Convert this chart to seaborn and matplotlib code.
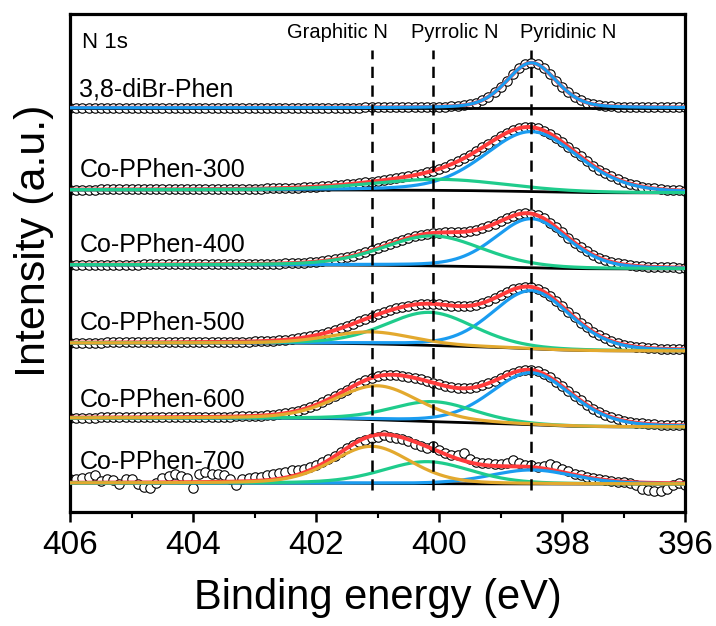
import numpy as np
import pandas as pd
import matplotlib
matplotlib.use('Agg')
import matplotlib.pyplot as plt
import seaborn as sns

# N 1s spectra, stacked; intensities in arbitrary (offset) units
samples = ['3,8-diBr-Phen', 'Co-PPhen-300', 'Co-PPhen-400',
           'Co-PPhen-500', 'Co-PPhen-600', 'Co-PPhen-700']
label_y = [422, 342, 267, 189, 112, 50]

# background level at the high-BE end (406 eV) and low-BE end (396 eV)
bg_high = [404, 322, 247, 169, 94, 29]
bg_low = [404, 319, 243, 161, 85, 28]

# fitted components: position (eV), height, FWHM (eV)
pyridinic_pos = [398.5, 398.5, 398.5, 398.5, 398.5, 398.5]
pyridinic_amp = [45, 60, 49, 58, 52, 14]
pyridinic_fwhm = [0.95, 1.8, 1.4, 1.5, 1.55, 1.6]

pyrrolic_pos = [400.1, 400.0, 400.1, 400.15, 400.1, 400.2]
pyrrolic_amp = [0, 11, 30, 33, 20, 22]
pyrrolic_fwhm = [1.0, 2.6, 1.9, 1.7, 1.6, 1.7]

graphitic_pos = [401.1, 401.1, 401.1, 401.1, 401.0, 401.1]
graphitic_amp = [0, 0, 0, 12, 34, 37]
graphitic_fwhm = [1.0, 1.0, 1.0, 1.6, 1.6, 1.5]

# measured points of Co-PPhen-700 relative to the fit envelope (406 -> 396 eV, 0.1 eV step)
resid_700 = [4, 4, 5, 6, 8, 2, 4, 3, -1, 4, 4, -2, -5, -6, -1, 4, 6, 8, 6, 4,
             -6, 8, 10, 8, 8, 7,
             3, -3, 2, 3, 4, 4, 5, 5, 6, 6, 6, 5, 4, 3, 2, 2, 1, 0, 0, 0,
             -1, -1, -2, -2, -2, -1,
             -2, -2, -1, -2, -2, -2, -1, 3, 2, 1, 2, 4, 8, 3, 2, 2, 2, 2, 2,
             3, 6, 3, 2, 2, 1,
             3, 6, 5, 3, 2, 1, 1, 0, 0, 0, 0, 0, -1, 0, -1, -3, -6, -7, -8,
             -8, -6, -2, 0, -2]

ref_lines = [401.1, 400.1, 398.5]
ref_names = ['Graphitic N', 'Pyrrolic N', 'Pyridinic N']
ref_name_x = [401.65, 399.75, 397.9]

colors = {'pyridinic': '#1a9cf0', 'pyrrolic': '#1fcc8c',
          'graphitic': '#e3a92e', 'envelope': '#ff3b3b'}


def peak(e, c, a, w, eta=0.25):
    d = (e - c) / w
    return a * ((1 - eta) * np.exp(-4 * np.log(2) * d ** 2) + eta / (1 + 4 * d ** 2))


def shirley(total, high, low):
    # grid runs 406 -> 396, so accumulate area from the low-BE end
    rev = total[::-1]
    area = np.concatenate([[0], np.cumsum((rev[1:] + rev[:-1]) / 2)])[::-1]
    return low + (high - low) * area / area[0]


fine = np.linspace(406, 396, 1001)
pts = np.round(np.linspace(406, 396, 101), 1)

sns.set_theme(style='ticks')
plt.rcParams['font.family'] = ['Liberation Sans', 'DejaVu Sans']
plt.rcParams.update({'text.color': 'black', 'axes.labelcolor': 'black',
                     'xtick.color': 'black', 'axes.edgecolor': 'black'})

fig, ax = plt.subplots(figsize=(7.16, 6.26), dpi=100)
fig.subplots_adjust(left=0.098, right=0.957, bottom=0.182, top=0.978)

for i, name in enumerate(samples):
    comps = []
    for kind, pos, amp, fw in [('pyridinic', pyridinic_pos, pyridinic_amp, pyridinic_fwhm),
                               ('pyrrolic', pyrrolic_pos, pyrrolic_amp, pyrrolic_fwhm),
                               ('graphitic', graphitic_pos, graphitic_amp, graphitic_fwhm)]:
        if amp[i] > 0:
            comps.append((kind, pos[i], amp[i], fw[i]))
    total = sum(peak(fine, c, a, w) for _, c, a, w in comps)
    bg = shirley(total, bg_high[i], bg_low[i])
    env = bg + total

    meas = np.interp(pts[::-1], fine[::-1], env[::-1])[::-1]
    if name == 'Co-PPhen-700':
        meas = meas + np.array(resid_700)
    sns.scatterplot(x=pts, y=meas, ax=ax, marker='o', s=46, color='white',
                    edgecolor='black', linewidth=0.8, zorder=2, legend=False)

    sns.lineplot(x=fine, y=env, ax=ax, color=colors['envelope'], lw=2.8,
                 sort=False, zorder=3)
    sns.lineplot(x=fine, y=bg, ax=ax, color='black', lw=2.0, sort=False, zorder=4)
    for kind, c, a, w in comps:
        sns.lineplot(x=fine, y=bg + peak(fine, c, a, w), ax=ax, color=colors[kind],
                     lw=2.3, sort=False, zorder=5)

    ax.text(405.85, label_y[i], name, fontsize=18, ha='left', va='center')

for xv in ref_lines:
    ax.plot([xv, xv], [22, 462], color='black', lw=1.8, ls=(0, (4.5, 3)), zorder=6)
for nm, nx in zip(ref_names, ref_name_x):
    ax.text(nx, 479, nm, fontsize=14.5, ha='center', va='center')
ax.text(405.8, 469, 'N 1s', fontsize=16, ha='left', va='center')

ax.set_xlim(406, 396)
ax.set_ylim(0, 498)
ax.set_yticks([])
ax.set_xticks([406, 404, 402, 400, 398, 396])
ax.set_xticks([405, 403, 401, 399, 397], minor=True)
ax.tick_params(axis='x', which='major', direction='out', length=7, width=1.8,
               labelsize=24, pad=6)
ax.tick_params(axis='x', which='minor', direction='out', length=4, width=1.5)
for sp in ax.spines.values():
    sp.set_linewidth(2.3)
    sp.set_visible(True)
ax.set_xlabel('Binding energy (eV)', fontsize=30, labelpad=12)
ax.set_ylabel('Intensity (a.u.)', fontsize=31)
ax.yaxis.set_label_coords(-0.027, 0.545)

fig.savefig('out.png', dpi=100)
